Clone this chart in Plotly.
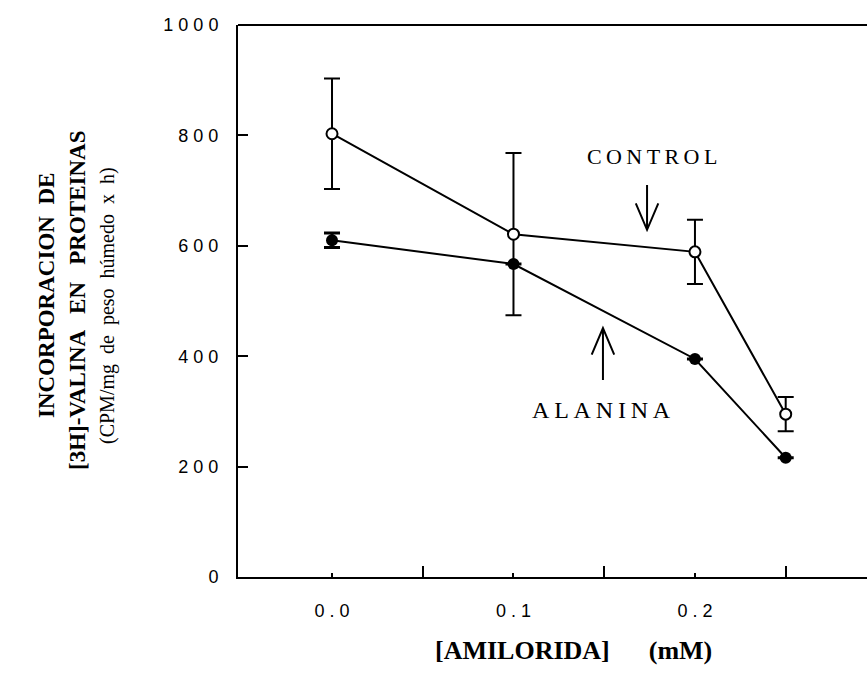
import plotly.graph_objects as go

# ---- data ----
amilorida = [0.0, 0.1, 0.2, 0.25]
control = [803, 621, 589, 295]
control_err = [100, 147, 58, 31]
alanina = [610, 567, 395, 216]
alanina_err = [13, 0, 0, 0]

x_tickvals = [0.0, 0.1, 0.2]
x_ticktext = ["0 . 0", "0 . 1", "0 . 2"]
x_minor = [0.05, 0.15, 0.25]
y_tickvals = [0, 200, 400, 600, 800, 1000]
y_ticktext = ["0", "2 0 0", "4 0 0", "6 0 0", "8 0 0", "1 0 0 0"]

SERIF = "Liberation Serif, Times New Roman, serif"
SANS = "Liberation Sans, Arial, sans-serif"
TS = "\u2009"  # thin space

fig = go.Figure()
fig.add_trace(go.Scatter(
    x=amilorida, y=control, mode="lines+markers",
    line=dict(color="black", width=2),
    marker=dict(symbol="circle", size=11, color="white", line=dict(color="black", width=2)),
    error_y=dict(type="data", array=control_err, color="black", thickness=2, width=8),
    showlegend=False,
))
fig.add_trace(go.Scatter(
    x=amilorida, y=alanina, mode="lines+markers",
    line=dict(color="black", width=2),
    marker=dict(symbol="circle", size=12, color="black"),
    error_y=dict(type="data", array=alanina_err, color="black", thickness=3, width=8),
    showlegend=False,
))

# top border line only
fig.add_shape(type="line", xref="paper", yref="paper", x0=0, x1=1, y0=1, y1=1,
              line=dict(color="black", width=2))

# arrows (annotation glyphs)
def arrow(x, y_tail, y_tip, dx=0.0062, dy=48):
    s = 1 if y_tip < y_tail else -1
    path = (f"M {x},{y_tail} L {x},{y_tip} "
            f"M {x-dx},{y_tip + s*dy} L {x},{y_tip} L {x+dx},{y_tip + s*dy}")
    fig.add_shape(type="path", xref="x", yref="y", path=path,
                  line=dict(color="black", width=2))

arrow(0.1736, 710, 629)
arrow(0.1493, 357, 451)

fig.add_annotation(x=0.1765, y=762, xref="x", yref="y", text=TS.join("CONTROL"),
                   showarrow=False, font=dict(family=SERIF, size=22, color="black"))
fig.add_annotation(x=0.1485, y=303, xref="x", yref="y", text=TS.join("ALANINA"),
                   showarrow=False, font=dict(family=SERIF, size=24, color="black"))

# y-axis title (three lines)
def ylab(px, py, text, size, bold=True):
    fig.add_annotation(xref="paper", yref="paper", x=(px - 238) / 629, y=(577 - py) / 552,
                       text=(f"<b>{text}</b>" if bold else text), textangle=-90,
                       showarrow=False, xanchor="center", yanchor="middle",
                       font=dict(family=SERIF, size=size, color="black"))

ylab(46, 296, "INCORPORACION  DE", 23)
ylab(77, 300, "[3H]-VALINA   EN   PROTEINAS", 23)
ylab(108, 306, "(CPM/mg  de  peso  húmedo  x  h)", 20, bold=False)

fig.add_annotation(xref="paper", yref="paper", x=(573 - 238) / 629, y=(577 - 650) / 552,
                   text="<b>[AMILORIDA]" + "\u00a0" * 6 + "(mM)</b>", showarrow=False,
                   xanchor="center", yanchor="middle",
                   font=dict(family=SERIF, size=26, color="black"))

fig.update_layout(
    width=867, height=678,
    margin=dict(l=238, r=0, t=25, b=101),
    plot_bgcolor="white", paper_bgcolor="white",
    xaxis=dict(range=[-0.0518, 0.2948], showgrid=False, zeroline=False,
               showline=True, linecolor="black", linewidth=2,
               tickvals=x_tickvals, ticktext=x_ticktext,
               ticks="inside", ticklen=4, tickwidth=2, tickcolor="black",
               minor=dict(tickvals=x_minor, ticks="inside", ticklen=11, tickwidth=2, tickcolor="black"),
               tickfont=dict(family=SANS, size=18, color="black"), ticklabelstandoff=16),
    yaxis=dict(range=[0, 1000], showgrid=False, zeroline=False,
               showline=True, linecolor="black", linewidth=2,
               tickvals=y_tickvals, ticktext=y_ticktext,
               ticks="inside", ticklen=10, tickwidth=2, tickcolor="black",
               tickfont=dict(family=SANS, size=18, color="black"), ticklabelstandoff=14),
)

fig.write_html("out.html")
